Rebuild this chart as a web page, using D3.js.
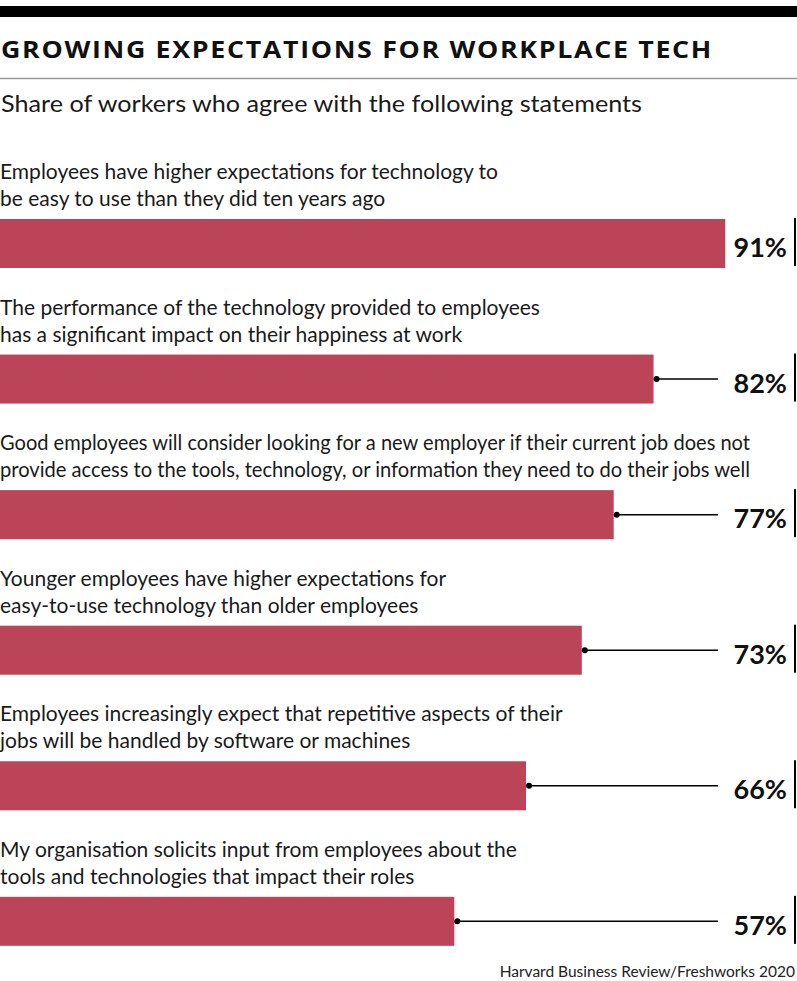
<!DOCTYPE html>
<html><head><meta charset="utf-8">
<script src="https://cdn.jsdelivr.net/npm/d3@7"></script>
<style>body{margin:0;background:#fff}svg{display:block}</style>
</head><body>
<script>
const titleText = "GROWING EXPECTATIONS FOR WORKPLACE TECH";
const subtitleText = "Share of workers who agree with the following statements";
const sourceText = "Harvard Business Review/Freshworks 2020";
const statements = [
  ["Employees have higher expectations for technology to", "be easy to use than they did ten years ago"],
  ["The performance of the technology provided to employees", "has a significant impact on their happiness at work"],
  ["Good employees will consider looking for a new employer if their current job does not", "provide access to the tools, technology, or information they need to do their jobs well"],
  ["Younger employees have higher expectations for", "easy-to-use technology than older employees"],
  ["Employees increasingly expect that repetitive aspects of their", "jobs will be handled by software or machines"],
  ["My organisation solicits input from employees about the", "tools and technologies that impact their roles"]
];
const values = [91, 82, 77, 73, 66, 57];

const W = 797, H = 981;
const svg = d3.select("body").append("svg").attr("width", W).attr("height", H);
const font = "Lato, 'Noto Sans', sans-serif";
const barColor = "#bc4458";

svg.append("rect").attr("x", 0).attr("y", 6).attr("width", W).attr("height", 11).attr("fill", "#000");
svg.append("text").attr("x", 1).attr("y", 58).text(titleText)
  .attr("font-family", "'Open Sans', sans-serif").attr("font-weight", 700).attr("font-size", 24)
  .attr("letter-spacing", 1.5)
  .attr("textLength", 712).attr("lengthAdjust", "spacingAndGlyphs").attr("fill", "#111");
svg.append("line").attr("x1", 0).attr("x2", W).attr("y1", 78.5).attr("y2", 78.5)
  .attr("stroke", "#999").attr("stroke-width", 1.5);
svg.append("text").attr("x", 1).attr("y", 112).text(subtitleText)
  .attr("font-family", font).attr("font-weight", 400).attr("font-size", 23.5)
  .attr("textLength", 641).attr("lengthAdjust", "spacingAndGlyphs").attr("fill", "#1a1a1a");

const x = d3.scaleLinear().domain([0, 100]).range([0, W]);
const y = d3.scaleBand().domain(d3.range(values.length)).range([220 - 1, 897 + 135.4]).paddingInner(0).paddingOuter(0);
const barH = 49;

const rows = svg.selectAll("g.row").data(values).join("g").attr("class", "row")
  .attr("transform", (d, i) => `translate(0,${y(i)})`);

rows.each(function(d, i) {
  const g = d3.select(this);
  statements[i].forEach((line, j) => {
    const t = g.append("text").attr("x", 0).attr("y", -40 + j * 27).text(line)
      .attr("font-family", font).attr("font-size", 21).attr("fill", "#1a1a1a");
    const len = t.node().getComputedTextLength();
    if (len > 750) t.attr("textLength", 750).attr("lengthAdjust", "spacingAndGlyphs");
  });
  g.append("rect").attr("x", 0).attr("y", 0).attr("width", x(d)).attr("height", barH).attr("fill", barColor);
  const labelEnd = 718;
  if (x(d) + 3 < labelEnd) {
    g.append("line").attr("x1", x(d) + 3).attr("x2", labelEnd).attr("y1", barH / 2).attr("y2", barH / 2)
      .attr("stroke", "#000").attr("stroke-width", 1.5);
    g.append("circle").attr("cx", x(d) + 3).attr("cy", barH / 2).attr("r", 3).attr("fill", "#000");
  }
  g.append("text").attr("x", 787).attr("y", 38).attr("text-anchor", "end").text(d + "%")
    .attr("font-family", font).attr("font-weight", 700).attr("font-size", 27).attr("fill", "#111");
  g.append("rect").attr("x", 794).attr("y", -1).attr("width", 2).attr("height", 48).attr("fill", "#000");
});

svg.append("text").attr("x", 795).attr("y", 977).attr("text-anchor", "end").text(sourceText)
  .attr("font-family", font).attr("font-size", 15.5).attr("fill", "#222");
</script>
</body></html>
